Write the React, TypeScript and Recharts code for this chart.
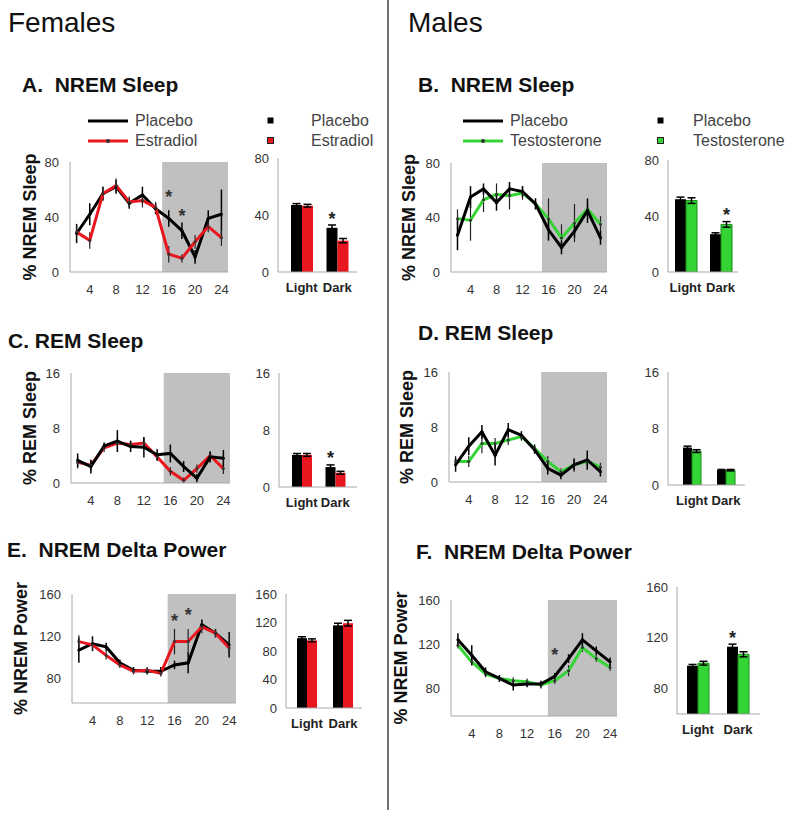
import React from "react";
import {
  LineChart,
  Line,
  BarChart,
  Bar,
  XAxis,
  YAxis,
  ErrorBar,
  ReferenceArea,
  ReferenceDot,
  Legend,
  LabelList,
} from "recharts";

const FONT = '"Liberation Sans", Arial, Helvetica, sans-serif';
const RED = "#e8161e";
const GREEN = "#35d435";
const SHADE = "#c0c0c0";
const AXIS = "#a8a8a8";

// hour of day (2-h bins)
const hours = [2, 4, 6, 8, 10, 12, 14, 16, 18, 20, 22, 24];
const hourTicks = [4, 8, 12, 16, 20, 24];
const periods = ["Light", "Dark"];

// A. females NREM sleep (%)
const nremFemPlacebo = [28, 42, 57, 62, 50, 56, 46, 39, 30, 11, 39, 42];
const nremFemPlaceboErr = [7, 8, 5, 5, 4, 6, 4, 6, 6, 5, 6, 18];
const nremFemEstradiol = [29, 23, 57, 63, 51, 52, 47, 13, 10, 22, 33, 25];
const nremFemEstradiolErr = [5, 6, 5, 5, 4, 5, 4, 6, 3, 5, 4, 6];
const nremFemStars = [
  [16, 57],
  [18, 43],
];

// B. males NREM sleep (%)
const nremMalePlacebo = [27, 55, 61, 51, 61, 59, 50, 31, 18, 30, 45, 25];
const nremMalePlaceboErr = [11, 8, 4, 6, 5, 4, 4, 8, 5, 5, 9, 5];
const nremMaleTestost = [39, 38, 53, 57, 56, 58, 50, 39, 25, 36, 46, 35];
const nremMaleTestostErr = [7, 15, 9, 8, 10, 5, 4, 15, 10, 14, 5, 6];

// C. females REM sleep (%)
const remFemPlacebo = [3.3, 2.4, 5.4, 6.1, 5.3, 5.2, 4.1, 4.3, 2.4, 0.7, 3.8, 3.6];
const remFemPlaceboErr = [1.0, 1.0, 0.5, 1.6, 0.8, 1.5, 0.8, 1.3, 0.8, 0.6, 0.8, 1.2];
const remFemEstradiol = [3.0, 2.6, 5.1, 5.8, 5.6, 5.8, 3.8, 1.7, 0.4, 2.1, 4.0, 2.1];
const remFemEstradiolErr = [0.9, 0.8, 0.6, 0.8, 0.6, 0.8, 0.6, 0.6, 0.4, 0.6, 0.6, 0.8];

// D. males REM sleep (%)
const remMalePlacebo = [2.5, 5.2, 7.3, 3.9, 7.6, 6.8, 4.7, 2.0, 1.0, 2.5, 3.2, 1.5];
const remMalePlaceboErr = [1.0, 1.3, 1.0, 1.5, 1.0, 0.6, 0.6, 0.9, 0.6, 0.8, 1.4, 0.7];
const remMaleTestost = [3.0, 3.0, 5.6, 5.6, 6.1, 6.6, 4.9, 3.0, 1.5, 2.5, 3.0, 2.2];
const remMaleTestostErr = [0.8, 0.8, 1.4, 0.8, 0.7, 0.6, 0.6, 0.8, 0.5, 1.0, 0.6, 0.6];

// E. females NREM delta power (%)
const deltaFemPlacebo = [107, 113, 110, 95, 88, 87, 87, 93, 95, 131, 123, 112];
const deltaFemPlaceboErr = [12, 7, 4, 3, 3, 3, 4, 4, 10, 5, 4, 12];
const deltaFemEstradiol = [115, 112, 102, 93, 87, 88, 85, 115, 115, 129, 123, 109];
const deltaFemEstradiolErr = [6, 5, 4, 3, 3, 3, 3, 12, 12, 6, 4, 6];
const deltaFemStars = [
  [16, 137],
  [18, 143],
];

// F. males NREM delta power (%)
const deltaMalePlacebo = [124, 110, 95, 89, 83, 84, 84, 91, 107, 124, 114, 104];
const deltaMalePlaceboErr = [6, 9, 4, 3, 5, 3, 3, 3, 4, 6, 4, 4];
const deltaMaleTestost = [119, 104, 93, 89, 87, 86, 83, 87, 96, 117, 107, 99];
const deltaMaleTestostErr = [3, 3, 3, 3, 3, 3, 3, 3, 5, 4, 3, 3];
const deltaMaleStars = [[16, 113]];

// light/dark means
const barNremFem = { ctrl: [47, 31], ctrlErr: [1, 2], trt: [46.5, 22], trtErr: [1, 1.5], ctrlStar: ["", "*"], trtStar: ["", ""] };
const barNremMale = { ctrl: [52, 27], ctrlErr: [1.5, 1], trt: [51, 34], trtErr: [2, 2], ctrlStar: ["", ""], trtStar: ["", "*"] };
const barRemFem = { ctrl: [4.5, 2.8], ctrlErr: [0.2, 0.3], trt: [4.5, 2.0], trtErr: [0.2, 0.2], ctrlStar: ["", "*"], trtStar: ["", ""] };
const barRemMale = { ctrl: [5.3, 2.1], ctrlErr: [0.2, 0.1], trt: [4.8, 2.1], trtErr: [0.2, 0.1], ctrlStar: ["", ""], trtStar: ["", ""] };
const barDeltaFem = { ctrl: [98, 116], ctrlErr: [2, 3], trt: [95, 119], trtErr: [2, 4], ctrlStar: ["", ""], trtStar: ["", ""] };
const barDeltaMale = { ctrl: [98, 113], ctrlErr: [1, 2], trt: [100, 107], trtErr: [1.5, 2], ctrlStar: ["", "*"], trtStar: ["", ""] };

const hourRows = (c: number[], ce: number[], t: number[], te: number[]) =>
  hours.map((hour, i) => ({ hour, ctrl: c[i], ctrlErr: ce[i], trt: t[i], trtErr: te[i] }));

const periodRows = (b: typeof barNremFem) =>
  periods.map((period, i) => ({
    period,
    ctrl: b.ctrl[i],
    ctrlErr: b.ctrlErr[i],
    trt: b.trt[i],
    trtErr: b.trtErr[i],
    ctrlStar: b.ctrlStar[i],
    trtStar: b.trtStar[i],
  }));

type Rect = { left: number; top: number; width: number; height: number };

const tickStyle = { fontSize: 13, fill: "#333" };

function pickItems(payload: any[] | undefined) {
  const list = payload || [];
  return ["ctrl", "trt"].map((k) => list.find((p) => p.dataKey === k)).filter(Boolean);
}

function LineKey(props: any) {
  const items = pickItems(props.payload);
  return (
    <svg width={180} height={44} style={{ overflow: "visible" }}>
      {items.map((p: any, i: number) => (
        <g key={p.dataKey}>
          <line x1={0} x2={40} y1={10 + i * 20} y2={10 + i * 20} stroke={p.color} strokeWidth={3} />
          {i > 0 && <circle cx={20} cy={10 + i * 20} r={2} fill="#333" />}
          <text x={47} y={15 + i * 20} fontSize={16} fill="#444">
            {p.value}
          </text>
        </g>
      ))}
    </svg>
  );
}

function makeBarKey(textX: number) {
  return function BarKey(props: any) {
    const items = pickItems(props.payload);
    return (
      <svg width={160} height={44} style={{ overflow: "visible" }}>
        {items.map((p: any, i: number) => (
          <g key={p.dataKey}>
            <rect x={0.5} y={6.5 + i * 20} width={6} height={6} fill={p.color} stroke={i > 0 ? "#222" : "none"} />
            <text x={textX} y={15 + i * 20} fontSize={16} fill="#444">
              {p.value}
            </text>
          </g>
        ))}
      </svg>
    );
  };
}

const BarStar = (p: any) =>
  p.value ? (
    <text x={p.x + p.width / 2} y={p.y - 3} textAnchor="middle" fontSize={18} fontWeight="bold" fill="#222">
      *
    </text>
  ) : null;

const LineStar = (p: any) => (
  <text x={p.cx} y={p.cy + 9} textAnchor="middle" fontSize={18} fontWeight="bold" fill="#333">
    *
  </text>
);

interface LineProps {
  plot: Rect;
  rows: any[];
  yDomain: [number, number];
  yTicks: number[];
  yLabel: string;
  labelX: number;
  color: string;
  names: [string, string];
  stars?: number[][];
  legend?: { x: number; y: number };
  ctrlOnTop?: boolean;
}

function HourPanel({ plot, rows, yDomain, yTicks, yLabel, labelX, color, names, stars = [], legend, ctrlOnTop }: LineProps) {
  const yw = 60;
  const mr = 8;
  const xh = 30;
  const mt = legend ? 60 : 34; // room for the rotated axis title to overhang
  const left = plot.left - yw;
  const top = plot.top - mt;
  const ctrl = (
    <Line
      key="ctrl"
      name={names[0]}
      dataKey="ctrl"
      stroke="#000"
      strokeWidth={3}
      dot={{ r: 1.5, fill: "#000", stroke: "none" }}
      isAnimationActive={false}
    >
      <ErrorBar dataKey="ctrlErr" direction="y" width={0} stroke="#000" strokeWidth={1.5} />
    </Line>
  );
  const trt = (
    <Line
      key="trt"
      name={names[1]}
      dataKey="trt"
      stroke={color}
      strokeWidth={3}
      dot={{ r: 1.5, fill: "#333", stroke: "none" }}
      isAnimationActive={false}
    >
      <ErrorBar dataKey="trtErr" direction="y" width={0} stroke="#222" strokeWidth={1.2} />
    </Line>
  );
  return (
    <div style={{ position: "absolute", left, top }}>
      <LineChart width={yw + plot.width + mr} height={mt + plot.height + xh} data={rows} margin={{ top: mt, right: mr, left: 0, bottom: 0 }}>
        <ReferenceArea x1={15} x2={25} fill={SHADE} fillOpacity={1} stroke="none" />
        <XAxis
          type="number"
          dataKey="hour"
          domain={[1, 25]}
          ticks={hourTicks}
          allowDataOverflow
          height={xh}
          tickLine={false}
          tickMargin={7}
          axisLine={{ stroke: AXIS }}
          tick={tickStyle}
        />
        <YAxis
          domain={yDomain}
          ticks={yTicks}
          allowDataOverflow
          width={yw}
          tickLine={false}
          tickMargin={5}
          axisLine={{ stroke: AXIS }}
          tick={tickStyle}
          label={{
            value: yLabel,
            angle: -90,
            position: "insideLeft",
            offset: labelX - left,
            style: { textAnchor: "middle", fontSize: 18, fontWeight: "bold", fill: "#111" },
          }}
        />
        {ctrlOnTop ? [trt, ctrl] : [ctrl, trt]}
        {stars.map(([x, y]) => (
          <ReferenceDot key={x} x={x} y={y} r={1} shape={LineStar} />
        ))}
        {legend && (
          <Legend
            layout="horizontal"
            verticalAlign="middle"
            align="center"
            content={LineKey}
            wrapperStyle={{ left: legend.x - left, top: legend.y - top, width: 180, height: 44 }}
          />
        )}
      </LineChart>
    </div>
  );
}

interface BarProps {
  plot: Rect;
  rows: any[];
  yDomain: [number, number];
  yTicks: number[];
  color: string;
  edge?: string;
  names: [string, string];
  size: number;
  pad: [number, number];
  legend?: { x: number; y: number; textX: number };
}

function PeriodPanel({ plot, rows, yDomain, yTicks, color, edge, names, size, pad, legend }: BarProps) {
  const yw = 34;
  const mr = 6;
  const xh = 30;
  const mt = legend ? 50 : 8;
  const left = plot.left - yw;
  const top = plot.top - mt;
  return (
    <div style={{ position: "absolute", left, top }}>
      <BarChart
        width={yw + plot.width + mr}
        height={mt + plot.height + xh}
        data={rows}
        margin={{ top: mt, right: mr, left: 0, bottom: 0 }}
        barGap={0}
        barSize={size}
      >
        <XAxis
          dataKey="period"
          height={xh}
          padding={{ left: pad[0], right: pad[1] }}
          tickLine={false}
          tickMargin={5}
          axisLine={{ stroke: AXIS }}
          tick={{ fontSize: 13, fontWeight: "bold", fill: "#222" }}
        />
        <YAxis
          domain={yDomain}
          ticks={yTicks}
          allowDataOverflow
          width={yw}
          tickLine={false}
          tickMargin={3}
          axisLine={{ stroke: AXIS }}
          tick={tickStyle}
        />
        <Bar name={names[0]} dataKey="ctrl" fill="#000" isAnimationActive={false}>
          <ErrorBar dataKey="ctrlErr" direction="y" width={4} stroke="#000" strokeWidth={1.5} />
          <LabelList dataKey="ctrlStar" content={BarStar} />
        </Bar>
        <Bar name={names[1]} dataKey="trt" fill={color} stroke={edge || "none"} strokeWidth={1} isAnimationActive={false}>
          <ErrorBar dataKey="trtErr" direction="y" width={4} stroke="#000" strokeWidth={1.5} />
          <LabelList dataKey="trtStar" content={BarStar} />
        </Bar>
        {legend && (
          <Legend
            layout="horizontal"
            verticalAlign="middle"
            align="center"
            content={makeBarKey(legend.textX)}
            wrapperStyle={{ left: legend.x - left, top: legend.y - top, width: 160, height: 44 }}
          />
        )}
      </BarChart>
    </div>
  );
}

const headings = [
  { text: "A.  NREM Sleep", x: 22, y: 92 },
  { text: "B.  NREM Sleep", x: 418, y: 92 },
  { text: "C. REM Sleep", x: 8, y: 348 },
  { text: "D. REM Sleep", x: 418, y: 340 },
  { text: "E.  NREM Delta Power", x: 7, y: 557 },
  { text: "F.  NREM Delta Power", x: 416, y: 559 },
];

export default function App() {
  const femNames: [string, string] = ["Placebo", "Estradiol"];
  const maleNames: [string, string] = ["Placebo", "Testosterone"];
  return (
    <div style={{ position: "absolute", left: 0, top: 0, width: 800, height: 819, background: "#fff", fontFamily: FONT, overflow: "hidden" }}>
      {/* Females */}
      <HourPanel
        plot={{ left: 70, top: 162, width: 158, height: 110 }}
        rows={hourRows(nremFemPlacebo, nremFemPlaceboErr, nremFemEstradiol, nremFemEstradiolErr)}
        yDomain={[0, 80]}
        yTicks={[0, 40, 80]}
        yLabel="% NREM Sleep"
        labelX={30}
        color={RED}
        names={femNames}
        stars={nremFemStars}
        legend={{ x: 88, y: 111 }}
      />
      <PeriodPanel
        plot={{ left: 278, top: 158, width: 79, height: 114 }}
        rows={periodRows(barNremFem)}
        yDomain={[0, 80]}
        yTicks={[0, 40, 80]}
        color={RED}
        names={femNames}
        size={11}
        pad={[6, 2]}
        legend={{ x: 267, y: 111, textX: 44 }}
      />
      <HourPanel
        plot={{ left: 71, top: 373, width: 159, height: 110 }}
        rows={hourRows(remFemPlacebo, remFemPlaceboErr, remFemEstradiol, remFemEstradiolErr)}
        yDomain={[0, 16]}
        yTicks={[0, 8, 16]}
        yLabel="% REM Sleep"
        labelX={30}
        color={RED}
        names={femNames}
        ctrlOnTop
      />
      <PeriodPanel
        plot={{ left: 279, top: 373, width: 78, height: 114 }}
        rows={periodRows(barRemFem)}
        yDomain={[0, 16]}
        yTicks={[0, 8, 16]}
        color={RED}
        names={femNames}
        size={10}
        pad={[6, 5]}
      />
      <HourPanel
        plot={{ left: 72, top: 594, width: 164, height: 109 }}
        rows={hourRows(deltaFemPlacebo, deltaFemPlaceboErr, deltaFemEstradiol, deltaFemEstradiolErr)}
        yDomain={[57, 160]}
        yTicks={[80, 120, 160]}
        yLabel="% NREM Power"
        labelX={21}
        color={RED}
        names={femNames}
        stars={deltaFemStars}
      />
      <PeriodPanel
        plot={{ left: 286, top: 594, width: 76, height: 114 }}
        rows={periodRows(barDeltaFem)}
        yDomain={[0, 160]}
        yTicks={[0, 40, 80, 120, 160]}
        color={RED}
        names={femNames}
        size={10}
        pad={[3, 1]}
      />

      {/* Males */}
      <HourPanel
        plot={{ left: 451, top: 163, width: 156, height: 109 }}
        rows={hourRows(nremMalePlacebo, nremMalePlaceboErr, nremMaleTestost, nremMaleTestostErr)}
        yDomain={[0, 80]}
        yTicks={[0, 40, 80]}
        yLabel="% NREM Sleep"
        labelX={409}
        color={GREEN}
        names={maleNames}
        legend={{ x: 463, y: 111 }}
        ctrlOnTop
      />
      <PeriodPanel
        plot={{ left: 668, top: 160, width: 70, height: 112 }}
        rows={periodRows(barNremMale)}
        yDomain={[0, 80]}
        yTicks={[0, 40, 80]}
        color={GREEN}
        edge="#178a17"
        names={maleNames}
        size={11}
        pad={[0, 0]}
        legend={{ x: 657, y: 111, textX: 36 }}
      />
      <HourPanel
        plot={{ left: 449, top: 372, width: 158, height: 110 }}
        rows={hourRows(remMalePlacebo, remMalePlaceboErr, remMaleTestost, remMaleTestostErr)}
        yDomain={[0, 16]}
        yTicks={[0, 8, 16]}
        yLabel="% REM Sleep"
        labelX={407}
        color={GREEN}
        names={maleNames}
        ctrlOnTop
      />
      <PeriodPanel
        plot={{ left: 668, top: 372, width: 77, height: 113 }}
        rows={periodRows(barRemMale)}
        yDomain={[0, 16]}
        yTicks={[0, 8, 16]}
        color={GREEN}
        edge="#178a17"
        names={maleNames}
        size={9}
        pad={[7, 2]}
      />
      <HourPanel
        plot={{ left: 451, top: 600, width: 166, height: 116 }}
        rows={hourRows(deltaMalePlacebo, deltaMalePlaceboErr, deltaMaleTestost, deltaMaleTestostErr)}
        yDomain={[55, 160]}
        yTicks={[80, 120, 160]}
        yLabel="% NREM Power"
        labelX={401}
        color={GREEN}
        names={maleNames}
        stars={deltaMaleStars}
        ctrlOnTop
      />
      <PeriodPanel
        plot={{ left: 677, top: 587, width: 83, height: 127 }}
        rows={periodRows(barDeltaMale)}
        yDomain={[60, 160]}
        yTicks={[80, 120, 160]}
        color={GREEN}
        edge="#178a17"
        names={maleNames}
        size={11}
        pad={[1, 2]}
      />

      <svg width={800} height={819} style={{ position: "absolute", left: 0, top: 0, pointerEvents: "none" }}>
        <line x1={388} x2={388} y1={0} y2={810} stroke="#444" strokeWidth={1.5} />
        <text x={8} y={32} fontSize={28} fill="#111">
          Females
        </text>
        <text x={408} y={32} fontSize={28} fill="#111">
          Males
        </text>
        {headings.map((h) => (
          <text key={h.text} x={h.x} y={h.y} fontSize={21} fontWeight="bold" fill="#111" style={{ whiteSpace: "pre" }}>
            {h.text}
          </text>
        ))}
      </svg>
    </div>
  );
}
